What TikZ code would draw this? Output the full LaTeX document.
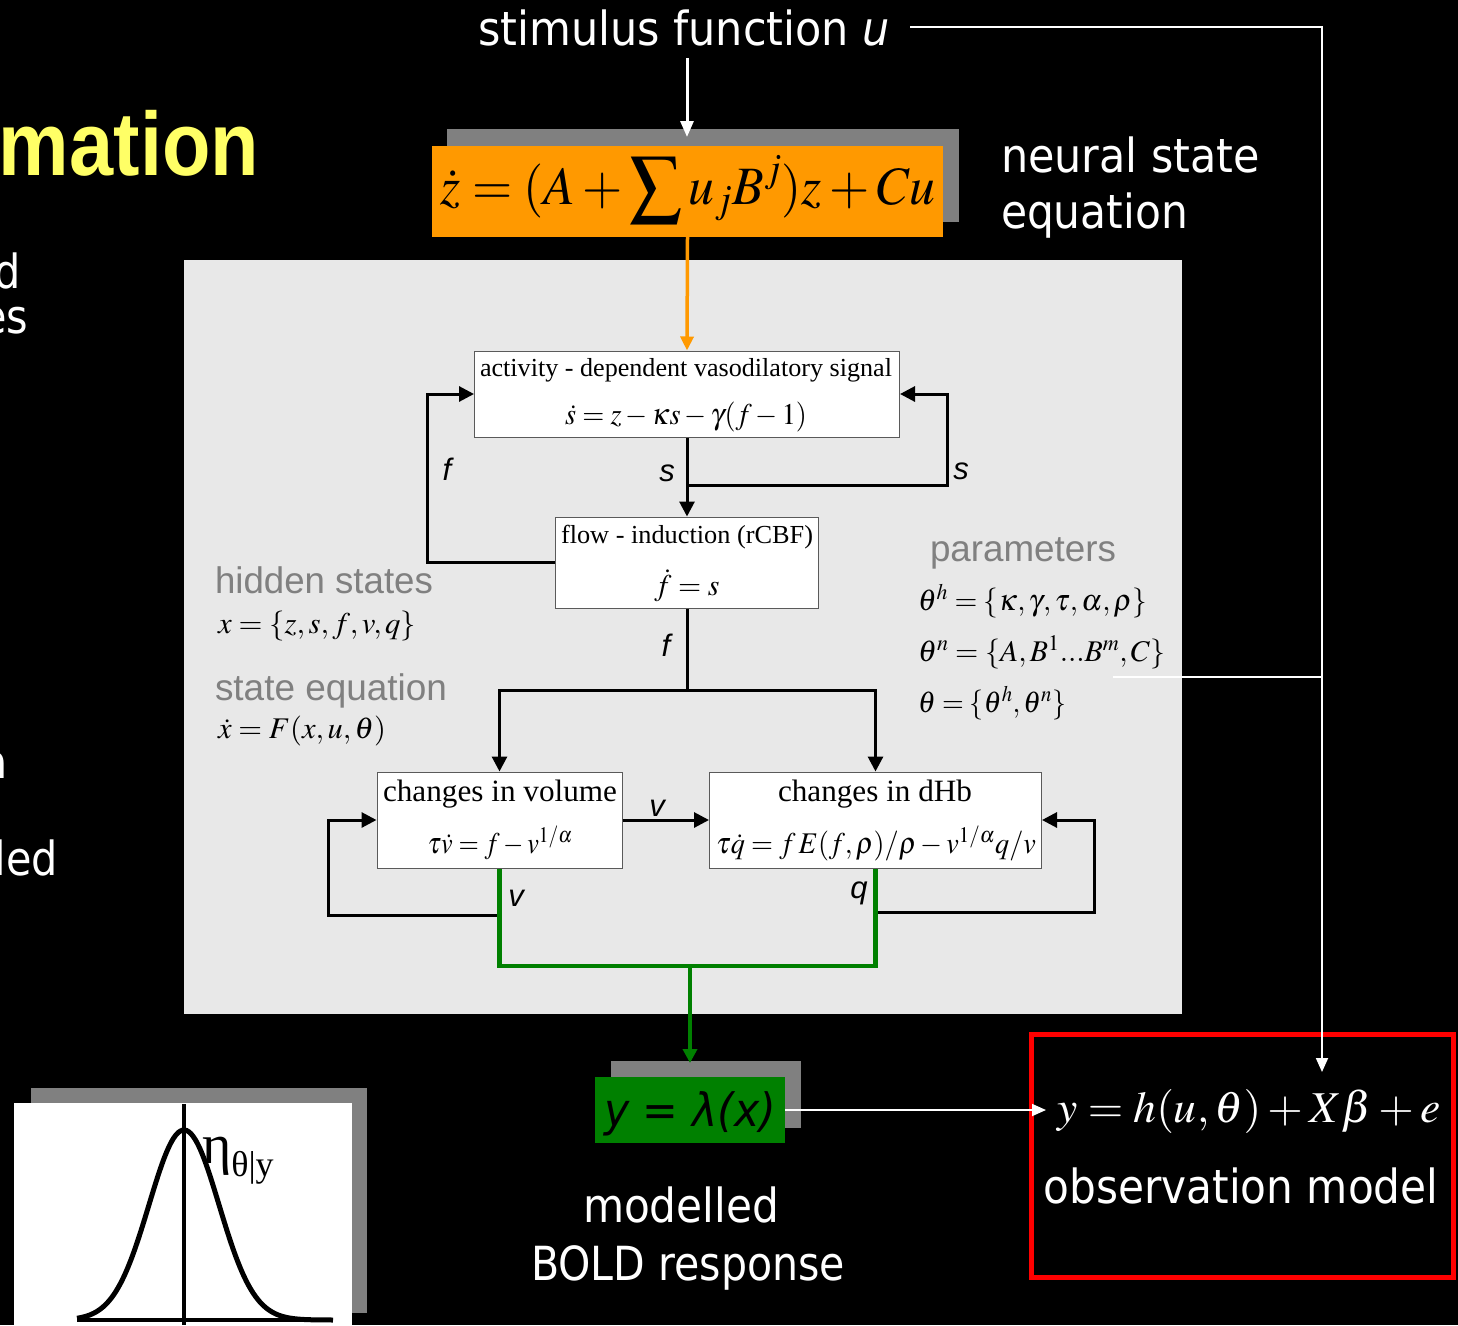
\documentclass[tikz,border=0pt]{standalone}
\usepackage{mathptmx}
\usepackage{fontspec}
\setmainfont{Liberation Serif}
\newfontfamily\tahfont{DejaVu Sans}
\newfontfamily\arifont{Liberation Sans}
\usetikzlibrary{arrows.meta,calc}
\newcommand\fsz[1]{\fontsize{#1}{#1}\selectfont}
\newcommand\fitw[2]{\resizebox{#1pt}{\height}{#2}}
\newcommand\squeeze[1]{\scalebox{0.88}[1]{#1}}
\definecolor{panel}{RGB}{232,232,232}
\definecolor{shadowC}{RGB}{128,128,128}
\definecolor{orangeC}{RGB}{255,153,0}
\definecolor{greenC}{RGB}{0,128,0}
\definecolor{ylw}{RGB}{255,255,102}
\definecolor{graytxt}{RGB}{128,128,128}
\definecolor{boxedge}{RGB}{90,90,90}
\tikzset{
  txt/.style={inner sep=0pt, outer sep=0pt},
  eqbox/.style={draw=boxedge, fill=white, line width=1pt, inner sep=0pt},
  conn/.style={line width=3pt, black},
  barr/.style={-{Triangle[length=15pt,width=15pt]}},
  gline/.style={line width=4.5pt, greenC},
  warr/.style={-{Triangle[length=14pt,width=12pt]}},
  wthin/.style={white, line width=1.8pt},
  wthick/.style={white, line width=3pt},
  lbl/.style={txt, font=\arifont\itshape\fsz{31}},
  graylbl/.style={txt, anchor=base west, text=graytxt, font=\arifont\fsz{37}},
  wtext/.style={txt, text=white, font=\tahfont\fsz{47}},
}
\begin{document}
\begin{tikzpicture}[x=1pt,y=-1pt]
\useasboundingbox (0,0) rectangle (1458,1325);
\clip (0,0) rectangle (1458,1325);
\fill[black] (0,0) rectangle (1458,1325);

% left clipped title fragments
\node[txt, anchor=base east, text=ylw, font=\arifont\bfseries\fsz{90}] (title) at (259,175) {\fitw{260}{mation}};
\node[wtext, anchor=base east] (frag1) at (21,288) {\squeeze{d}};
\node[wtext, anchor=base east] (frag2) at (28,333) {\squeeze{es}};
\node[wtext, anchor=base east] (frag3) at (8,778) {\squeeze{a}};
\node[wtext, anchor=base east] (frag4) at (58,875) {\squeeze{led}};

% panel
\fill[panel] (184,260) rectangle (1182,1014);

% stimulus
\node[wtext, anchor=base] (stim) at (684,45) {\fitw{412}{stimulus function \textit{u}}};
\node[wtext, anchor=base west] (neurallbl1) at (1001,172) {\fitw{259}{neural state}};
\node[wtext, anchor=base west] (neurallbl2) at (1001,228) {\fitw{187}{equation}};

% neural state box
\fill[shadowC] (447,129) rectangle (959,222);
\node[txt, fill=orangeC, minimum width=511pt, minimum height=91pt] (neural) at (687.5,191.5) {};
\node[txt, anchor=base] (neuraleq) at (688,204) {\fitw{495}{\fsz{54}$\dot z=(A+\displaystyle\sum u_jB^j)z+Cu$}};

% hemodynamic boxes
\node[eqbox, minimum width=425pt, minimum height=86pt] (act) at (687,394) {};
\node[txt, anchor=base] (acttitle) at (686,376) {\fitw{412}{\fsz{26}activity - dependent vasodilatory signal}};
\node[txt, anchor=base] (acteq) at (686,424) {\fitw{242}{\fsz{30}$\dot s=z-\kappa s-\gamma(f-1)$}};

\node[eqbox, minimum width=263pt, minimum height=91pt] (flow) at (687,562.5) {};
\node[txt, anchor=base] (flowtitle) at (687,543) {\fitw{252}{\fsz{26}flow - induction (rCBF)}};
\node[txt, anchor=base] (floweq) at (687,595) {\fitw{65}{\fsz{30}$\dot f=s$}};

\node[eqbox, minimum width=245pt, minimum height=96pt] (vol) at (499.5,820) {};
\node[txt, anchor=base] (voltitle) at (500,801) {\fitw{234}{\fsz{31}changes in volume}};
\node[txt, anchor=base] (voleq) at (500,853) {\fitw{145}{\fsz{30}$\tau\dot v=f-v^{1/\alpha}$}};

\node[eqbox, minimum width=332pt, minimum height=96pt] (dhb) at (875.5,820) {};
\node[txt, anchor=base] (dhbtitle) at (875,801) {\fitw{194}{\fsz{31}changes in dHb}};
\node[txt, anchor=base] (dhbeq) at (876,853) {\fitw{320}{\fsz{30}$\tau\dot q=f\,E(f,\rho)/\rho-v^{1/\alpha}q/v$}};

% side texts
\node[graylbl] (hidlbl) at (215,593) {\fitw{218}{hidden states}};
\node[txt, anchor=base west] (hideq) at (218,633) {\fitw{198}{\fsz{30}$x=\{z,s,f,v,q\}$}};
\node[graylbl] (statelbl) at (215,700) {\fitw{232}{state equation}};
\node[txt, anchor=base west] (stateeq) at (218,738) {\fitw{168}{\fsz{30}$\dot x=F(x,u,\theta)$}};
\node[graylbl] (parlbl) at (930,561) {\fitw{186}{parameters}};
\node[txt, anchor=base west] (par1) at (918,610) {\fitw{229}{\fsz{30}$\theta^h=\{\kappa,\gamma,\tau,\alpha,\rho\}$}};
\node[txt, anchor=base west] (par2) at (918,661) {\fitw{247}{\fsz{30}$\theta^n=\{A,B^1...B^m,C\}$}};
\node[txt, anchor=base west] (par3) at (918,712) {\fitw{148}{\fsz{30}$\theta=\{\theta^h,\theta^n\}$}};

% connectors inside panel
\draw[orangeC, line width=3.5pt, -{Triangle[length=14pt,width=13pt]}] (neural.south) -- (act.north);
\draw[conn, barr] (act.south) -- (flow.north);
\coordinate (sbr) at (687,485);
\draw[conn, barr] (sbr) -| ($(act.east)+(47,0)$) -- (act.east);
\draw[conn, barr] (flow.west) -| ($(act.west)+(-47,0)$) -- (act.west);
\coordinate (fbr) at (687,690);
\draw[conn] (flow.south) -- (fbr);
\draw[conn, barr] (fbr) -| (vol.north);
\draw[conn, barr] (fbr) -| (dhb.north);
\draw[conn, barr] (vol.east) -- (dhb.west);
\draw[conn, barr] (vol.south) -- ++(0,47) -| ($(vol.west)+(-48,0)$) -- (vol.west);
\draw[conn, barr] (dhb.south) -- ++(0,44) -| ($(dhb.east)+(52,0)$) -- (dhb.east);

% green output
\coordinate (gj) at (690,966);
\draw[gline] (vol.south) -- (vol.south |- gj) -- (dhb.south |- gj) -- (dhb.south);
\fill[shadowC] (611,1061) rectangle (801,1128);
\node[txt, fill=greenC, minimum width=190pt, minimum height=66pt] (ybox) at (690,1110) {};
\node[txt, anchor=base] (yeq) at (690,1126) {\fitw{172}{\tahfont\itshape\fsz{46}y = λ(x)}};
\coordinate (ytop) at (690,1063);
\draw[gline, -{Triangle[length=14pt,width=14pt]}] (gj) -- (ytop);

% labels
\node[lbl, anchor=base] (lf1) at (447,480) {f};
\node[lbl, anchor=base] (ls1) at (667,481) {s};
\node[lbl, anchor=base] (ls2) at (961,479) {s};
\node[lbl, anchor=base] (lf2) at (666,656) {f};
\node[lbl, anchor=base] (lv1) at (657,816) {v};
\node[lbl, anchor=base] (lv2) at (516,906) {v};
\node[lbl, anchor=base] (lq) at (859,898) {q};

% observation model
\node[txt, draw=red, line width=5pt, minimum width=422pt, minimum height=243pt] (obs) at (1242.5,1156) {};
\node[txt, anchor=base, text=white] (obseq) at (1249,1122) {\fitw{383}{\fsz{44}$y=h(u,\theta)+X\beta+e$}};
\node[wtext, anchor=base] (obslbl) at (1241,1203) {\fitw{395}{observation model}};

% white connectors
\coordinate (stimtail) at (687,58);
\coordinate (neuraltop) at (687,137);
\draw[wthick, -{Triangle[length=16pt,width=13pt]}] (stimtail) -- (neuraltop);
\coordinate (stimend) at (910,27);
\coordinate (obsin) at (1322,1072);
\draw[wthin, warr] (stimend) -| (obsin);
\coordinate (parend) at (1113,677);
\coordinate (parjoin) at (1322,677);
\draw[wthin] (parend) -- (parjoin);
\coordinate (obsleft) at (1046,1110);
\draw[wthin, warr] (ybox.east) -- (obsleft);

% modelled BOLD
\node[wtext, anchor=base] (bold1) at (681,1222) {\fitw{196}{modelled}};
\node[wtext, anchor=base] (bold2) at (688,1280) {\fitw{314}{BOLD response}};

% posterior plot
\fill[shadowC] (31,1088) rectangle (367,1313);
\fill[white] (14,1103) rectangle (352,1330);
\draw[line width=4.5pt, black] (77,1320) -- (333,1320);
\draw[line width=4.5pt, black] (184,1104) -- (184,1325);
\draw[line width=5pt, black, smooth] plot[domain=77:333, samples=120] (\x, {1320-190*exp(-0.5*((\x-184)/35)^2)});
\node[txt, anchor=base west] (eta) at (202,1163) {\fsz{56}η\raisebox{-13pt}{\fsz{36}θ|y}};
\end{tikzpicture}
\end{document}
